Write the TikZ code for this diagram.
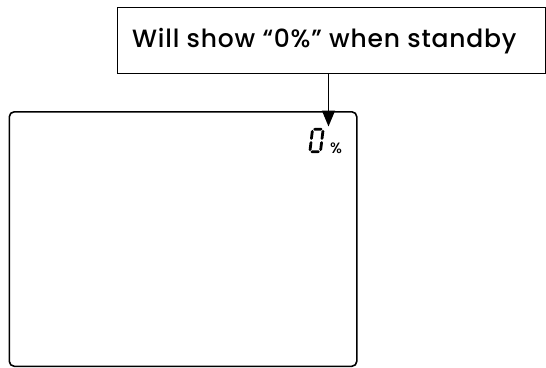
\documentclass[tikz,border=0pt]{standalone}
\usepackage{fontspec}
\setmainfont{Poppins}
\newfontfamily\labfont{Poppins}[UprightFont=* Medium, LetterSpace=3.2]
\newfontfamily\pctfont{Poppins}[UprightFont=* Medium]
\usetikzlibrary{arrows.meta}
\tikzset{
  labelbox/.style={draw, line width=1pt, minimum width=428pt, minimum height=66pt, inner sep=0pt},
  screenbox/.style={draw, line width=1.6pt, rounded corners=5pt, anchor=north west, minimum width=347.5pt, minimum height=254.5pt, inner sep=0pt},
  pointer/.style={line width=1.3pt, -{Triangle[width=13pt,length=16pt]}},
  seg/.style={fill=black, draw=none}
}
\begin{document}
\begin{tikzpicture}[x=1pt,y=-1pt]
\useasboundingbox (0,0) rectangle (546,367);
\node[labelbox, anchor=north west] (lbl) at (117,7) {};
\node[anchor=base west, inner sep=0pt, font=\labfont\fontsize{25}{30}\selectfont] (lbltext) at (132,47.5) {Will show “0\%” when standby};
\node[screenbox] (scr) at (8.5,111) {};
\coordinate (tip) at (328.5,126.5);
\draw[pointer] (lbl.south -| tip) -- (tip);
% seven-segment zero
\begin{scope}[shift={(311.5,128)}, xslant=0.12]
  \fill[seg] (1.9,1.2) -- (3.2,-0.2) -- (9.8,-0.2) -- (11.1,1.2) -- (9.8,2.6) -- (3.2,2.6) -- cycle;
  \fill[seg] (1.9,23.8) -- (3.2,22.4) -- (9.8,22.4) -- (11.1,23.8) -- (9.8,25.2) -- (3.2,25.2) -- cycle;
  \fill[seg] (1.2,1.9) -- (2.6,3.3) -- (2.6,10.5) -- (1.2,11.9) -- (-0.2,10.5) -- (-0.2,3.3) -- cycle;
  \fill[seg] (1.2,13.1) -- (2.6,14.5) -- (2.6,21.7) -- (1.2,23.1) -- (-0.2,21.7) -- (-0.2,14.5) -- cycle;
  \fill[seg] (11.8,1.9) -- (13.2,3.3) -- (13.2,10.5) -- (11.8,11.9) -- (10.4,10.5) -- (10.4,3.3) -- cycle;
  \fill[seg] (11.8,13.1) -- (13.2,14.5) -- (13.2,21.7) -- (11.8,23.1) -- (10.4,21.7) -- (10.4,14.5) -- cycle;
\end{scope}
\node[anchor=base west, inner sep=0pt, font=\pctfont\fontsize{15}{18}\selectfont] (pct) at (330,153) {\%};
\end{tikzpicture}
\end{document}
